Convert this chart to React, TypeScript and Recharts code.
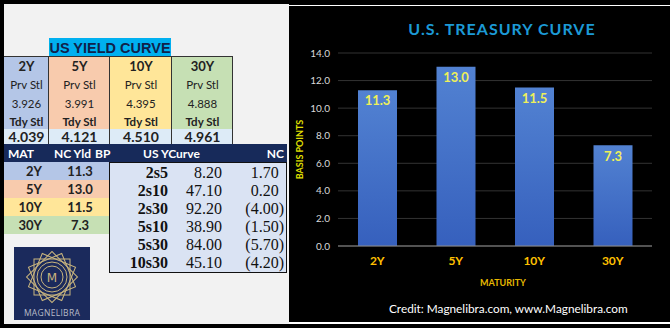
import { BarChart, Bar, XAxis, YAxis, CartesianGrid, LabelList, Label } from "recharts";

const maturities = ["2Y", "5Y", "10Y", "30Y"];
const prevSettle = ["3.926", "3.991", "4.395", "4.888"];
const todaySettle = ["4.039", "4.121", "4.510", "4.961"];
const ncBasisPoints = [11.3, 13.0, 11.5, 7.3];
const spreadNames = ["2s5", "2s10", "2s30", "5s10", "5s30", "10s30"];
const spreadValues = [8.2, 47.1, 92.2, 38.9, 84.0, 45.1];
const spreadChanges = [1.7, 0.2, -4.0, -1.5, -5.7, -4.2];
const yTicks = [0, 2, 4, 6, 8, 10, 12, 14];

const colFills = ["#b4c6e7", "#f8cbad", "#ffe699", "#c6e0b4"];
const colEdges = [4, 49, 110, 172, 233];
const navy = "#172a5a";
const calibri = "Lato, 'Open Sans', sans-serif";

const chartData = maturities.map((m, i) => ({ name: m, bp: ncBasisPoints[i] }));

function Cell({ x, y, w, h, children, style }: any) {
  return (
    <div
      style={{
        position: "absolute",
        left: x,
        top: y,
        width: w,
        height: h,
        display: "flex",
        alignItems: "center",
        justifyContent: "center",
        whiteSpace: "nowrap",
        ...style,
      }}
    >
      {children}
    </div>
  );
}

function fmtChange(v: number) {
  if (v < 0) return "(" + Math.abs(v).toFixed(2) + ")";
  return (
    <>
      {v.toFixed(2)}
      <span style={{ visibility: "hidden" }}>)</span>
    </>
  );
}

function Logo() {
  const sq = [0, 22.5, 45, 67.5];
  return (
    <svg width={76} height={73} style={{ position: "absolute", left: 14, top: 247 }}>
      <rect width={76} height={73} fill="#1b2a5c" />
      <g transform="translate(38,30)" fill="none" stroke="#c9b57e" strokeWidth={1}>
        {sq.map((a) => (
          <rect key={a} x={-18} y={-18} width={36} height={36} transform={`rotate(${a})`} />
        ))}
        <circle r={15} />
        <circle r={11} />
      </g>
      <text x={38} y={35} textAnchor="middle" fill="#c9b57e" fontSize={12} fontFamily="'DejaVu Sans'">
        M
      </text>
      <text x={38} y={69} textAnchor="middle" fill="#b8bcc8" fontSize={8.5} fontFamily="'Open Sans'" letterSpacing={0.3}>
        MAGNELIBRA
      </text>
    </svg>
  );
}

export default function App() {
  return (
    <div style={{ position: "absolute", left: 0, top: 0, width: 670, height: 328, background: "#000", overflow: "hidden" }}>
      {/* left panel */}
      <div style={{ position: "absolute", left: 4, top: 4, width: 285, height: 320, background: "#f2f2f2" }} />

      <Cell
        x={49}
        y={38}
        w={122}
        h={19}
        style={{ background: "#00b0f0", color: "#10214a", fontFamily: "'Liberation Sans', Arial", fontWeight: 700, fontSize: 14.5 }}
      >
        US YIELD CURVE
      </Cell>

      {maturities.map((m, i) => {
        const x = colEdges[i];
        const w = colEdges[i + 1] - colEdges[i];
        const txt = { fontFamily: calibri, color: "#222", fontSize: 11.5 };
        return (
          <div key={m}>
            <div style={{ position: "absolute", left: x, top: 57, width: w, height: 72, background: colFills[i] }} />
            <Cell x={x} y={57} w={w} h={18} style={{ ...txt, fontWeight: 700, fontSize: 13 }}>{m}</Cell>
            <Cell x={x} y={75} w={w} h={18} style={txt}>Prv Stl</Cell>
            <Cell x={x} y={94} w={w} h={18} style={txt}>{prevSettle[i]}</Cell>
            <Cell x={x} y={112} w={w} h={18} style={{ ...txt, fontWeight: 700 }}>Tdy Stl</Cell>
            <Cell x={x} y={129} w={w} h={15} style={{ ...txt, fontWeight: 700, fontSize: 14, background: "#ddebf7" }}>
              {todaySettle[i]}
            </Cell>
          </div>
        );
      })}
      <div style={{ position: "absolute", left: 4, top: 56, width: 229, height: 1, background: "#333" }} />
      {colEdges.slice(1).map((x) => (
        <div key={x} style={{ position: "absolute", left: x - 1, top: 56, width: 1, height: 88, background: "#333" }} />
      ))}

      {/* navy header */}
      <div style={{ position: "absolute", left: 4, top: 144, width: 283, height: 18, background: navy }} />
      <div style={{ fontFamily: calibri, color: "#fff", fontWeight: 700, fontSize: 12 }}>
        <Cell x={8} y={144} w={30} h={18} style={{ justifyContent: "flex-start" }}>MAT</Cell>
        <Cell x={54} y={144} w={40} h={18} style={{ justifyContent: "flex-start" }}>NC Yld</Cell>
        <Cell x={95} y={144} w={20} h={18} style={{ justifyContent: "flex-start" }}>BP</Cell>
        <Cell x={143} y={144} w={70} h={18} style={{ justifyContent: "flex-start" }}>US YCurve</Cell>
        <Cell x={240} y={144} w={44} h={18} style={{ justifyContent: "flex-end" }}>NC</Cell>
      </div>

      {/* MAT table */}
      {maturities.map((m, i) => (
        <div key={m} style={{ fontFamily: calibri, fontWeight: 700, fontSize: 13, color: "#222" }}>
          <div style={{ position: "absolute", left: 4, top: 162 + i * 18, width: 106, height: 18, background: colFills[i] }} />
          <Cell x={4} y={162 + i * 18} w={38} h={18} style={{ justifyContent: "flex-end" }}>{m}</Cell>
          <Cell x={60} y={162 + i * 18} w={40} h={18}>{ncBasisPoints[i].toFixed(1)}</Cell>
        </div>
      ))}

      {/* spread table */}
      <div
        style={{
          position: "absolute",
          left: 109,
          top: 162,
          width: 176,
          height: 109,
          background: "#dae3f3",
          border: "1px solid #111",
        }}
      />
      {spreadNames.map((s, i) => (
        <div key={s} style={{ fontFamily: "'Liberation Serif', serif", fontSize: 16, color: "#111" }}>
          <Cell x={120} y={164 + i * 18} w={48} h={18} style={{ justifyContent: "flex-end", fontWeight: 700 }}>{s}</Cell>
          <Cell x={175} y={164 + i * 18} w={47} h={18} style={{ justifyContent: "flex-end" }}>
            {spreadValues[i].toFixed(2)}
          </Cell>
          <Cell x={230} y={164 + i * 18} w={54} h={18} style={{ justifyContent: "flex-end" }}>
            {fmtChange(spreadChanges[i])}
          </Cell>
        </div>
      ))}

      <Logo />

      {/* chart panel */}
      <div style={{ position: "absolute", left: 289, top: 5, width: 381, height: 1, background: "#fff" }} />
      <div style={{ position: "absolute", left: 289, top: 322, width: 381, height: 2, background: "#fff" }} />
      <div style={{ position: "absolute", left: 289, top: 6, width: 381, height: 316, fontFamily: calibri }}>
        <div
          style={{
            position: "absolute",
            left: 0,
            top: 13,
            width: 426,
            textAlign: "center",
            color: "#1c9ad6",
            fontWeight: 700,
            fontSize: 16,
            letterSpacing: 1,
          }}
        >
          U.S. TREASURY CURVE
        </div>
        <BarChart width={381} height={316} data={chartData} margin={{ top: 47, right: 18, left: 0, bottom: 32 }}>
          <defs>
            <linearGradient id="barFill" x1="0" y1="0" x2="0" y2="1">
              <stop offset="0%" stopColor="#5282d2" />
              <stop offset="100%" stopColor="#3660bd" />
            </linearGradient>
          </defs>
          <CartesianGrid vertical={false} stroke="#333" />
          <XAxis
            dataKey="name"
            height={44}
            tickLine={false}
            tickSize={0}
            tickMargin={10}
            axisLine={{ stroke: "#8c8c8c" }}
            tick={{ fill: "#ffc000", fontSize: 12, fontWeight: 700 }}
          >
            <Label value="MATURITY" position="insideBottom" offset={4} dx={8} fill="#e6b800" fontSize={9} fontWeight={700} />
          </XAxis>
          <YAxis
            width={49}
            domain={[0, 14]}
            ticks={yTicks}
            tickFormatter={(v: number) => v.toFixed(1)}
            axisLine={false}
            tickLine={false}
            tickSize={0}
            tickMargin={8}
            tick={{ fill: "#d9d9d9", fontSize: 10 }}
          >
            <Label
              value="BASIS POINTS"
              angle={-90}
              position="insideLeft"
              offset={11}
              fill="#e0e000"
              fontSize={9}
              fontWeight={700}
              style={{ textAnchor: "middle" }}
            />
          </YAxis>
          <Bar dataKey="bp" fill="url(#barFill)" barSize={39} isAnimationActive={false}>
            <LabelList
              dataKey="bp"
              position="insideTop"
              offset={6}
              formatter={(v: any) => Number(v).toFixed(1)}
              fill="#eef05a"
              fontSize={13}
              fontWeight={700}
            />
          </Bar>
        </BarChart>
        <div style={{ position: "absolute", left: 100, top: 295, color: "#fff", fontSize: 11.8 }}>
          Credit: Magnelibra.com, www.Magnelibra.com
        </div>
      </div>
    </div>
  );
}
